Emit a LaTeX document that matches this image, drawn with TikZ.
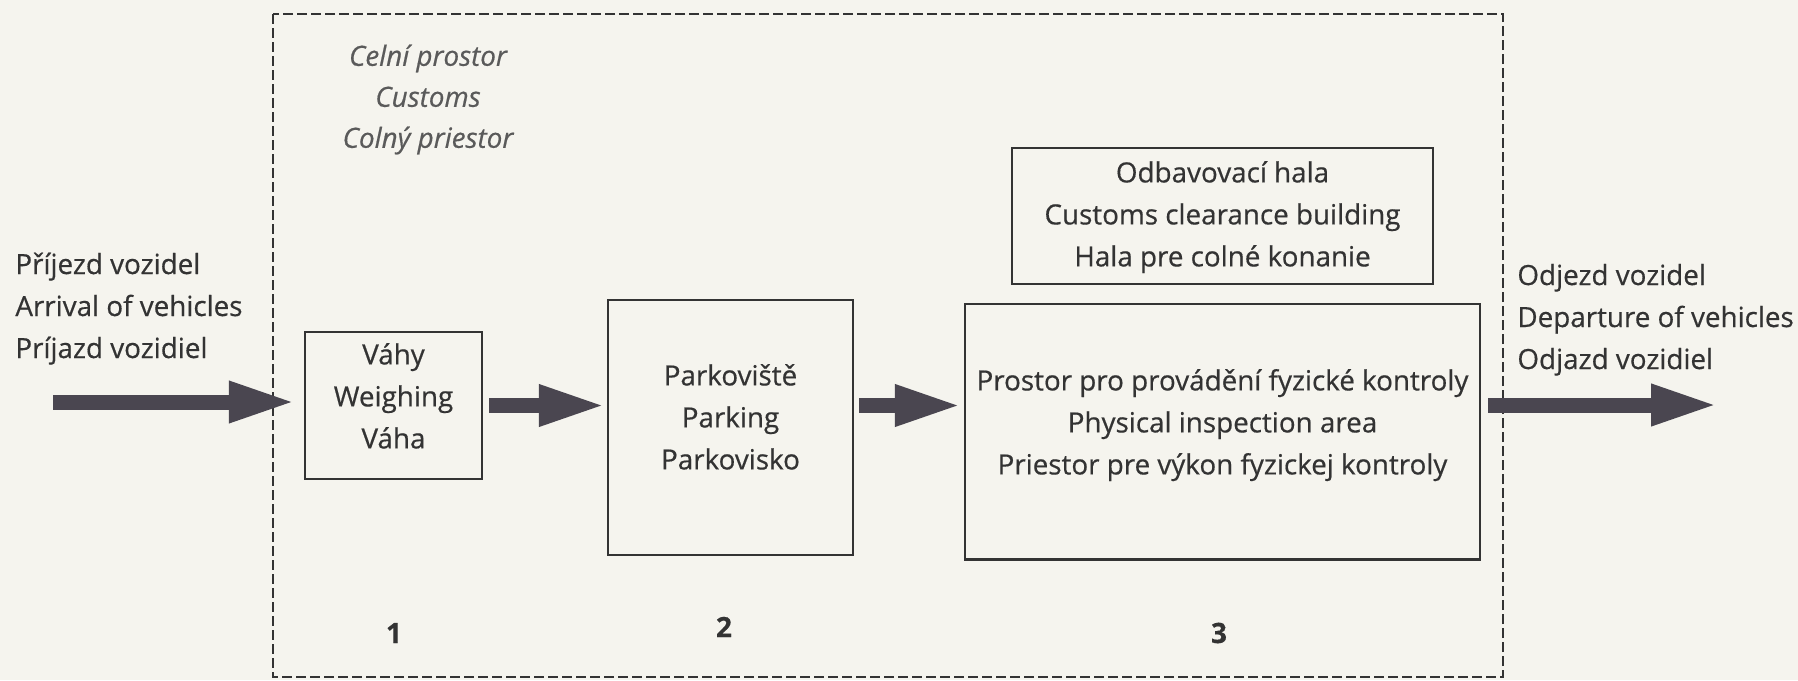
\documentclass[tikz,border=0pt]{standalone}
\usepackage{fontspec}
\setmainfont{Open Sans}[FakeBold=0.5]
\usetikzlibrary{arrows.meta,calc}
\definecolor{bg}{HTML}{F5F4EE}
\definecolor{ink}{HTML}{333333}
\definecolor{boxline}{HTML}{333333}
\definecolor{arrowc}{HTML}{4A4650}
\definecolor{ital}{HTML}{5A5A5A}
\newcommand{\mlc}[2][0pt]{\begin{tabular}{@{}c@{}}#2\\[#1]\end{tabular}}
\newcommand{\mll}[1]{\begin{tabular}{@{}l@{}}#1\end{tabular}}
\tikzset{
  every node/.style={inner sep=0pt, text=ink, font=\fontsize{13.9}{21}\selectfont},
  stagebox/.style={draw=boxline, line width=1.25pt, rectangle, inner sep=0pt},
  flow/.style={draw=arrowc, line width=7.5pt, -{Triangle[length=33.5pt,width=19pt]}},
  zone/.style={draw=boxline, line width=0.75pt, dash pattern=on 5pt off 2pt},
  caption/.style={font=\fontsize{13.9}{20.5}\selectfont\itshape, text=ital},
  stepnum/.style={font=\fontsize{14}{16}\selectfont\bfseries, text=ink},
}
\begin{document}
\begin{tikzpicture}[x=0.5pt, y=-0.5pt]
\fill[bg] (0,0) rectangle (1798,680);
\useasboundingbox (0,0) rectangle (1798,680);

% customs zone
\draw[zone] (273,14) rectangle (1503,677);
\node[caption] (zonecap) at (428,98.6) {\mlc{Celní prostor\\Customs\\Colný priestor}};

% stages
\node[stagebox, minimum width=88.5pt, minimum height=73.5pt] (weigh) at (393.5,405.5)
  {\mlc[7.5pt]{Váhy\\Weighing\\Váha}};
\node[stagebox, minimum width=122.5pt, minimum height=127.5pt] (park) at (730.5,427.5)
  {\mlc[8.5pt]{Parkoviště\\Parking\\Parkovisko}};
\node[stagebox, minimum width=257.5pt, minimum height=127.75pt] (phys) at (1222.5,431.75)
  {\mlc[7.75pt]{Prostor pro provádění fyzické kontroly\\Physical inspection area\\Priestor pre výkon fyzickej kontroly}};
\node[stagebox, minimum width=210.5pt, minimum height=68pt] (hall) at (1222.5,216)
  {\mlc{Odbavovací hala\\Customs clearance building\\Hala pre colné konanie}};

% entry / exit labels
\node[anchor=west] (arrive) at (15,307.6) {\mll{Příjezd vozidel\\Arrival of vehicles\\Príjazd vozidiel}};
\node[anchor=west] (depart) at (1517,318.6) {\mll{Odjezd vozidel\\Departure of vehicles\\Odjazd vozidiel}};

% step numbers
\node[stepnum] (n1) at (394,633) {1};
\node[stepnum] (n2) at (724,627) {2};
\node[stepnum] (n3) at (1219,633) {3};

% flow arrows
\coordinate (entry) at (53,402);
\coordinate (exit) at (1718,405);
\draw[flow] (entry) -- ($(weigh.west |- entry)+(-8,0)$);
\draw[flow] ($(weigh.east)+(6,0)$) -- ($(park.west |- weigh.east)+(-1,0)$);
\draw[flow] ($(park.east |- weigh.east)+(5,0)$) -- ($(phys.west |- weigh.east)+(-2,0)$);
\draw[flow] ($(phys.east |- exit)+(7,0)$) -- (exit);
\end{tikzpicture}
\end{document}
